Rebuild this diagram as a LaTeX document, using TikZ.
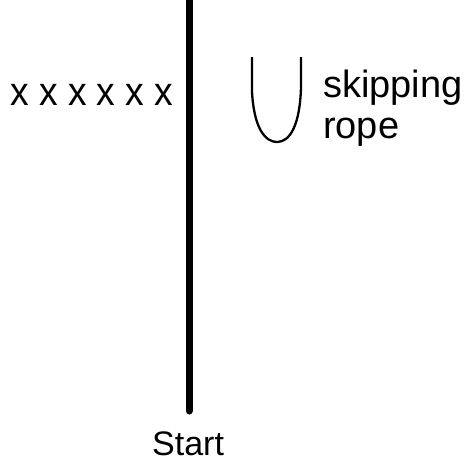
\documentclass[tikz,border=0pt]{standalone}
\usepackage{fontspec}
\setmainfont{Liberation Sans}
\begin{document}
\begin{tikzpicture}[x=1pt,y=-1pt,
  lbl/.style={inner sep=0pt,anchor=base west},
  big/.style={font=\fontsize{38}{41}\selectfont},
  pole/.style={line width=7pt,line cap=round},
  ropeline/.style={line width=2.3pt,line join=round}]
\useasboundingbox (0,0) rectangle (466,464);
\coordinate (top) at (189,-6);
\coordinate (bot) at (189,411);
\draw[pole] (top) -- (bot);
\node[lbl,font=\fontsize{40}{41}\selectfont,xscale=0.93] (xs) at (10,105) {x x x x x x};
\coordinate (rl) at (252,57);
\coordinate (rr) at (301,57);
\draw[ropeline] (rl) -- (252,92) .. controls (254,128) and (265,142) .. (277,142)
  .. controls (290,142) and (300,125) .. (301,87) -- (rr);
\node[lbl,big] (skip) at (323,97) {skipping};
\node[lbl,big] (rope) at (323,138) {rope};
\node[lbl,text depth=0pt,font=\fontsize{34}{40}\selectfont] (start) at (152,455) {Start};
\end{tikzpicture}
\end{document}
